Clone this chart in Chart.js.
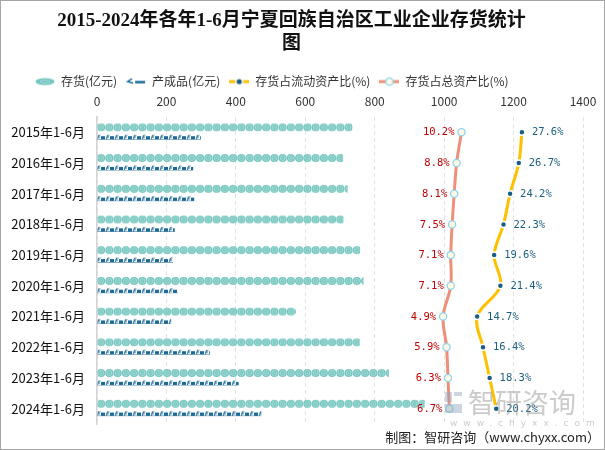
<!DOCTYPE html>
<html><head><meta charset="utf-8">
<script src="https://cdn.jsdelivr.net/npm/chart.js@4.4.1/dist/chart.umd.min.js"></script>
<style>
html,body{margin:0;padding:0;background:#fff}
#wrap{position:relative;width:605px;height:450px}
#frame{position:absolute;left:0;top:0;width:605px;height:450px;box-sizing:border-box;border:1px solid #a6a6a6;pointer-events:none}
canvas{display:block}
</style></head><body>
<div id="wrap"><canvas id="c" width="605" height="450"></canvas><div id="frame"></div></div>
<script>
// ---- data ----
const categories = ['2015年1-6月','2016年1-6月','2017年1-6月','2018年1-6月','2019年1-6月','2020年1-6月','2021年1-6月','2022年1-6月','2023年1-6月','2024年1-6月'];
const inventory = [736, 709, 722, 710, 758, 768, 573, 757, 841, 944];      // 存货(亿元)
const finishedGoods = [299, 277, 280, 224, 219, 233, 214, 325, 408, 474];  // 产成品(亿元)
const invToCurrent = [27.6, 26.7, 24.2, 22.3, 19.6, 21.4, 14.7, 16.4, 18.3, 20.2]; // 存货占流动资产比(%)
const invToTotal = [10.2, 8.8, 8.1, 7.5, 7.1, 7.1, 4.9, 5.9, 6.3, 6.7];          // 存货占总资产比(%)
const seriesNames = ['存货(亿元)', '产成品(亿元)', '存货占流动资产比(%)', '存货占总资产比(%)'];
const valueTicks = [0, 200, 400, 600, 800, 1000, 1200, 1400];
const titleLines = ['2015-2024年各年1-6月宁夏回族自治区工业企业存货统计', '图'];

// ---- styling helpers ----
const TEAL = '#74c6bf', NAVY = '#1d6a96', GOLD = '#ffc000', SALMON = '#ef8f7a';
const CAT_PCT = 0.64;
const BAR_PCT = [0.85, 0.54];

function tileInventory() {
  const c = document.createElement('canvas'); c.width = 33; c.height = 10;
  const g = c.getContext('2d');
  for (let k = 0; k < 4; k++) {
    const cx = k * 8.25 + 4.125, cy = 5;
    g.fillStyle = TEAL; g.beginPath(); g.arc(cx, cy, 4.1, 0, Math.PI * 2); g.fill();
    g.strokeStyle = '#a9dcd7'; g.lineWidth = 1; g.beginPath(); g.arc(cx, cy, 2.4, 0, Math.PI * 2); g.stroke();
    g.fillStyle = '#9bd6d0'; g.fillRect(cx - 0.8, cy - 0.8, 1.6, 1.6);
  }
  return c;
}
function tileProduct() {
  const c = document.createElement('canvas'); c.width = 9; c.height = 10;
  const g = c.getContext('2d');
  g.fillStyle = NAVY;
  g.fillRect(4, 4, 4, 3);
  g.strokeStyle = NAVY; g.lineWidth = 1;
  g.beginPath(); g.moveTo(0.5, 7); g.lineTo(1.5, 3); g.lineTo(3.5, 3); g.stroke();
  g.beginPath(); g.moveTo(0.5, 5); g.lineTo(3, 5); g.stroke();
  g.fillRect(0, 7, 9, 0.8);
  return c;
}
const tiles = [tileInventory(), tileProduct()];

function patternFill(dsIndex, fallback) {
  return function (ctx) {
    const chart = ctx.chart;
    const ys = chart.scales && chart.scales.y, xs = chart.scales && chart.scales.x;
    if (ctx.type !== 'data' || !ys || !xs) return fallback;
    const c0 = ys.getPixelForValue(ctx.dataIndex);
    const spacing = Math.abs(ys.getPixelForValue(1) - ys.getPixelForValue(0));
    if (!isFinite(spacing) || !isFinite(c0) || spacing === 0) return fallback;
    const chunk = spacing * CAT_PCT / 2;
    const center = c0 + (dsIndex === 0 ? -chunk / 2 : chunk / 2);
    const pat = chart.ctx.createPattern(tiles[dsIndex], 'repeat');
    pat.setTransform(new DOMMatrix([1, 0, 0, 1, xs.getPixelForValue(0), center - 5]));
    return pat;
  };
}

// legend icons
function legendIcon(kind) {
  const c = document.createElement('canvas'); c.width = 20; c.height = 12;
  const g = c.getContext('2d');
  if (kind === 0) {
    g.fillStyle = TEAL; g.beginPath(); g.ellipse(10, 6, 9.5, 3.4, 0, 0, Math.PI * 2); g.fill();
    g.strokeStyle = '#a9dcd7'; g.lineWidth = 1; g.beginPath(); g.ellipse(10, 6, 5, 1.5, 0, 0, Math.PI * 2); g.stroke();
  } else if (kind === 1) {
    g.strokeStyle = NAVY; g.lineWidth = 2.5; g.beginPath(); g.moveTo(9, 6.5); g.lineTo(19, 6.5); g.stroke();
    g.lineWidth = 1.5; g.beginPath(); g.moveTo(6, 3); g.lineTo(1.5, 6); g.lineTo(7, 7.5); g.stroke();
  } else if (kind === 2) {
    g.strokeStyle = GOLD; g.lineWidth = 3; g.beginPath(); g.moveTo(0, 6); g.lineTo(20, 6); g.stroke();
    g.fillStyle = '#fff'; g.beginPath(); g.arc(10, 6, 4, 0, Math.PI * 2); g.fill();
    g.fillStyle = '#1a5f82'; g.beginPath(); g.arc(10, 6, 2.6, 0, Math.PI * 2); g.fill();
  } else {
    g.strokeStyle = SALMON; g.lineWidth = 3; g.beginPath(); g.moveTo(0, 6); g.lineTo(20, 6); g.stroke();
    g.fillStyle = '#fffbe3'; g.strokeStyle = '#8ed4f2'; g.lineWidth = 1.3;
    g.beginPath(); g.arc(10, 6, 3.6, 0, Math.PI * 2); g.fill(); g.stroke();
  }
  return c;
}
const legendIcons = [0, 1, 2, 3].map(legendIcon);

const FONT_CJK = '"Noto Sans CJK SC", "Noto Sans", sans-serif';

// labels + footer + watermark plugin
const decorPlugin = {
  id: 'decor',
  afterLayout(chart) {
    if (chart.legend) {
      chart.legend.left += 26; chart.legend.right += 26;
      chart.legend.top += 6; chart.legend.bottom += 6;
    }
  },
  afterDatasetsDraw(chart) {
    const ctx = chart.ctx;
    ctx.save();
    ctx.font = '10.5px "DejaVu Sans Mono", monospace';
    ctx.textBaseline = 'middle';
    const mTotal = chart.getDatasetMeta(3), mCur = chart.getDatasetMeta(2);
    mTotal.data.forEach((pt, i) => {
      ctx.fillStyle = '#c00000'; ctx.textAlign = 'right';
      ctx.fillText(invToTotal[i].toFixed(1) + '%', pt.x - 7, pt.y + 0.5);
    });
    mCur.data.forEach((pt, i) => {
      ctx.fillStyle = '#1a5f82'; ctx.textAlign = 'left';
      ctx.fillText(invToCurrent[i].toFixed(1) + '%', pt.x + 10, pt.y + 0.5);
    });
    ctx.restore();
  },
  afterDraw(chart) {
    const ctx = chart.ctx;
    ctx.save();
    // watermark
    ctx.globalAlpha = 0.45;
    ctx.fillStyle = '#8fa3bd';
    ctx.fillRect(445, 392, 7, 10); ctx.fillRect(454, 392, 8, 4); ctx.fillRect(445, 404, 17, 9);
    ctx.fillStyle = '#8c8c8c';
    ctx.font = '27px ' + FONT_CJK;
    ctx.textBaseline = 'middle'; ctx.textAlign = 'left';
    ctx.fillText('智研咨询', 468, 403);
    ctx.font = '9px "DejaVu Sans", sans-serif';
    ctx.letterSpacing = '6px';
    ctx.fillText('www.chyxx.com', 450, 424);
    ctx.letterSpacing = '0px';
    ctx.globalAlpha = 1;
    // footer
    ctx.fillStyle = '#222';
    ctx.font = '13px ' + FONT_CJK;
    ctx.textAlign = 'right';
    ctx.fillText('制图：智研咨询（www.chyxx.com）', 600, 437);
    ctx.restore();
  }
};

new Chart(document.getElementById('c'), {
  data: {
    labels: categories,
    datasets: [
      { type: 'bar', label: seriesNames[0], data: inventory, xAxisID: 'x', yAxisID: 'y', order: 2,
        backgroundColor: patternFill(0, TEAL), borderWidth: 0,
        categoryPercentage: CAT_PCT, barPercentage: BAR_PCT[0] },
      { type: 'bar', label: seriesNames[1], data: finishedGoods, xAxisID: 'x', yAxisID: 'y', order: 2,
        backgroundColor: patternFill(1, NAVY), borderWidth: 0,
        categoryPercentage: CAT_PCT, barPercentage: BAR_PCT[1] },
      { type: 'line', label: seriesNames[2], data: invToCurrent, xAxisID: 'x2', yAxisID: 'y', order: 1,
        borderColor: GOLD, borderWidth: 3, tension: 0.35, fill: false,
        pointRadius: 3, pointBackgroundColor: '#1a5f82', pointBorderColor: '#fff', pointBorderWidth: 1.5 },
      { type: 'line', label: seriesNames[3], data: invToTotal, xAxisID: 'x2', yAxisID: 'y', order: 1,
        borderColor: SALMON, borderWidth: 3, tension: 0.35, fill: false,
        pointRadius: 3.6, pointBackgroundColor: '#fffbe3', pointBorderColor: '#8ed4f2', pointBorderWidth: 1.3 }
    ]
  },
  options: {
    indexAxis: 'y',
    responsive: false,
    animation: false,
    devicePixelRatio: 1,
    layout: { padding: { left: 0, right: 22, top: 0, bottom: 26 } },
    plugins: {
      title: {
        display: true, text: titleLines, color: '#111',
        font: { family: '"Liberation Serif", "Noto Sans CJK SC", serif', size: 19, weight: 'bold', lineHeight: 1.2 },
        padding: { top: 10, bottom: 5 }
      },
      legend: {
        display: true, position: 'top', align: 'start',
        labels: {
          usePointStyle: true, pointStyleWidth: 20, boxHeight: 12, padding: 9,
          color: '#333', font: { family: FONT_CJK, size: 12 },
          generateLabels: () => seriesNames.map((n, i) => ({
            text: n, pointStyle: legendIcons[i], datasetIndex: i, hidden: false,
            fillStyle: 'rgba(0,0,0,0)', strokeStyle: 'rgba(0,0,0,0)', lineWidth: 0, fontColor: '#333'
          }))
        }
      },
      tooltip: { enabled: false }
    },
    scales: {
      x: {
        position: 'top', min: valueTicks[0], max: valueTicks[valueTicks.length - 1],
        afterBuildTicks: (s) => { s.ticks = valueTicks.map(v => ({ value: v })); },
        afterFit: (s) => { s.height = 25.3; },
        ticks: { color: '#333', padding: 8, font: { family: FONT_CJK, size: 12 }, callback: (v) => String(v) },
        grid: { color: '#e3e3e3', drawTicks: false, lineWidth: 1 },
        border: { display: false, dash: [4, 3] }
      },
      x2: { display: false, min: -94.8, max: 45.2 },
      y: {
        offset: true,
        afterFit: (s) => { s.width = 97; },
        ticks: { color: '#111', padding: 12, font: { family: FONT_CJK, size: 13 } },
        grid: { display: false, drawTicks: false },
        border: { display: true, color: '#d4d4d4', width: 1.5 }
      }
    }
  },
  plugins: [decorPlugin]
});
</script>
</body></html>
